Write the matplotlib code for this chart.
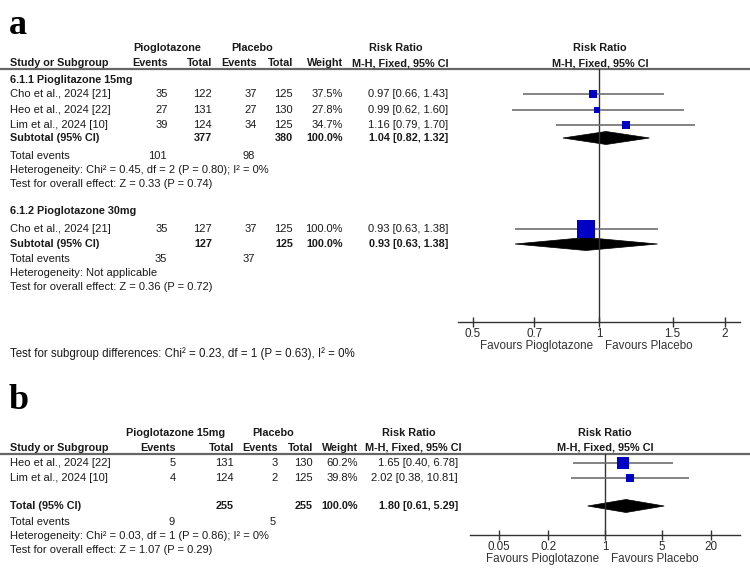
import numpy as np
import matplotlib.pyplot as plt
from matplotlib.patches import Polygon

# ---------------------------------------------------------------
# Panel a: pioglitazone vs placebo, split by dose
# ---------------------------------------------------------------
a15_studies = ["Cho et al., 2024 [21]", "Heo et al., 2024 [22]", "Lim et al., 2024 [10]"]
a15_pio_events = [35, 27, 39]
a15_pio_total = [122, 131, 124]
a15_pla_events = [37, 27, 34]
a15_pla_total = [125, 130, 125]
a15_weight = [37.5, 27.8, 34.7]
a15_rr = [0.97, 0.99, 1.16]
a15_lo = [0.66, 0.62, 0.79]
a15_hi = [1.43, 1.60, 1.70]
a15_subtotal = [1.04, 0.82, 1.32]
a15_sum_total = [377, 380]
a15_sum_events = [101, 98]
a15_het = "Heterogeneity: Chi\u00b2 = 0.45, df = 2 (P = 0.80); I\u00b2 = 0%"
a15_test = "Test for overall effect: Z = 0.33 (P = 0.74)"

a30_studies = ["Cho et al., 2024 [21]"]
a30_pio_events = [35]
a30_pio_total = [127]
a30_pla_events = [37]
a30_pla_total = [125]
a30_weight = [100.0]
a30_rr = [0.93]
a30_lo = [0.63]
a30_hi = [1.38]
a30_subtotal = [0.93, 0.63, 1.38]
a30_sum_total = [127, 125]
a30_sum_events = [35, 37]
a30_het = "Heterogeneity: Not applicable"
a30_test = "Test for overall effect: Z = 0.36 (P = 0.72)"

a_subgroup_test = "Test for subgroup differences: Chi\u00b2 = 0.23, df = 1 (P = 0.63), I\u00b2 = 0%"
a_ticks = [0.5, 0.7, 1, 1.5, 2]
a_tick_labels = ["0.5", "0.7", "1", "1.5", "2"]

# ---------------------------------------------------------------
# Panel b: pioglitazone 15mg vs placebo
# ---------------------------------------------------------------
b_studies = ["Heo et al., 2024 [22]", "Lim et al., 2024 [10]"]
b_pio_events = [5, 4]
b_pio_total = [131, 124]
b_pla_events = [3, 2]
b_pla_total = [130, 125]
b_weight = [60.2, 39.8]
b_rr = [1.65, 2.02]
b_lo = [0.40, 0.38]
b_hi = [6.78, 10.81]
b_total = [1.80, 0.61, 5.29]
b_sum_total = [255, 255]
b_sum_events = [9, 5]
b_het = "Heterogeneity: Chi\u00b2 = 0.03, df = 1 (P = 0.86); I\u00b2 = 0%"
b_test = "Test for overall effect: Z = 1.07 (P = 0.29)"
b_ticks = [0.05, 0.2, 1, 5, 20]
b_tick_labels = ["0.05", "0.2", "1", "5", "20"]

# ---------------------------------------------------------------
W, H = 750, 584
FONTE = "Liberation Sans"
TAM = 8.0
TAM_NEGRITO = 7.8
COR_TEXTO = "#1a1a1a"
COR_IC = "#6e6e6e"
COR_QUADRADO = "#0000c4"

plt.rcParams["font.family"] = [FONTE, "DejaVu Sans"]

fig = plt.figure(figsize=(W / 100, H / 100), dpi=100)
base = fig.add_axes([0, 0, 1, 1])
base.set_xlim(0, W)
base.set_ylim(H, 0)
base.axis("off")


def escrever(x, y, s, ha="left", bold=False, size=None):
    if size is None:
        size = TAM_NEGRITO if bold else TAM
    base.text(x, y, s, ha=ha, va="center", fontsize=size, color=COR_TEXTO,
              fontweight="bold" if bold else "normal")


def eixo_floresta(x0, x1, y_top, y_bot, xlim, ticks, labels):
    ax = fig.add_axes([x0 / W, 1 - y_bot / H, (x1 - x0) / W, (y_bot - y_top) / H])
    ax.patch.set_visible(False)
    ax.set_xscale("log")
    ax.set_xlim(xlim)
    ax.set_ylim(y_bot, y_top)
    for lado in ["top", "left", "right"]:
        ax.spines[lado].set_visible(False)
    ax.spines["bottom"].set_color("#333333")
    ax.spines["bottom"].set_linewidth(1.0)
    ax.set_xticks(ticks)
    ax.set_xticklabels(labels)
    ax.minorticks_off()
    ax.set_yticks([])
    ax.tick_params(axis="x", direction="inout", length=7, width=1.0, color="#333333",
                   labelsize=TAM + 0.4, labelcolor="#2a2a2a", pad=0.5)
    ax.axvline(1, color="#333333", lw=1.0)
    ax.annotate("Favours Pioglotazone", (1, y_bot), xytext=(-4, -17), textcoords="offset points",
                ha="right", va="center", fontsize=TAM + 0.4, color="#333333", annotation_clip=False)
    ax.annotate("Favours Placebo", (1, y_bot), xytext=(4, -17), textcoords="offset points",
                ha="left", va="center", fontsize=TAM + 0.4, color="#333333", annotation_clip=False)
    return ax


def desenhar_estudo(ax, y, rr, lo, hi, peso):
    ax.plot([lo, hi], [y, y], color=COR_IC, lw=1.2, solid_capstyle="butt")
    lado_px = 1.5 + 16 * peso / 100
    ax.plot([rr], [y], marker="s", ms=lado_px * 0.72, color=COR_QUADRADO, mew=0, ls="none")


def desenhar_diamante(ax, y, rr, lo, hi, meia_altura=6.5):
    ax.add_patch(Polygon([[lo, y], [rr, y - meia_altura], [hi, y], [rr, y + meia_altura]],
                         closed=True, facecolor="black", edgecolor="black", lw=0.5))


def cabecalho(y1, y2, y_linha, col, grupo1, centro_g1, centro_g2, centro_rr, centro_mh):
    escrever(centro_g1, y1, grupo1, ha="center", bold=True)
    escrever(centro_g2, y1, "Placebo", ha="center", bold=True)
    escrever(centro_rr, y1, "Risk Ratio", ha="center", bold=True)
    escrever(10, y2, "Study or Subgroup", bold=True)
    escrever(col[0], y2, "Events", ha="right", bold=True)
    escrever(col[1], y2, "Total", ha="right", bold=True)
    escrever(col[2], y2, "Events", ha="right", bold=True)
    escrever(col[3], y2, "Total", ha="right", bold=True)
    escrever(col[4], y2, "Weight", ha="right", bold=True)
    escrever(centro_mh, y2, "M-H, Fixed, 95% CI", ha="center", bold=True)
    base.plot([0, W], [y_linha, y_linha], color="#666666", lw=1.6)


def linhas_estudos(ax, ys, col, nomes, ev1, tot1, ev2, tot2, peso, rr, lo, hi):
    for i, y in enumerate(ys):
        escrever(10, y, nomes[i])
        escrever(col[0], y, str(ev1[i]), ha="right")
        escrever(col[1], y, str(tot1[i]), ha="right")
        escrever(col[2], y, str(ev2[i]), ha="right")
        escrever(col[3], y, str(tot2[i]), ha="right")
        escrever(col[4], y, f"{peso[i]:.1f}%", ha="right")
        escrever(col[5], y, f"{rr[i]:.2f} [{lo[i]:.2f}, {hi[i]:.2f}]", ha="right")
        desenhar_estudo(ax, y, rr[i], lo[i], hi[i], peso[i])


def linha_resumo(ax, y, col, rotulo, totais, resumo):
    escrever(10, y, rotulo, bold=True)
    escrever(col[1], y, str(totais[0]), ha="right", bold=True)
    escrever(col[3], y, str(totais[1]), ha="right", bold=True)
    escrever(col[4], y, "100.0%", ha="right", bold=True)
    rr, lo, hi = resumo
    escrever(col[5], y, f"{rr:.2f} [{lo:.2f}, {hi:.2f}]", ha="right", bold=True)
    desenhar_diamante(ax, y, rr, lo, hi)


def rodape(y, col, eventos, het, teste):
    escrever(10, y, "Total events")
    escrever(col[0] - 1, y, str(eventos[0]), ha="right")
    escrever(col[2] - 2, y, str(eventos[1]), ha="right")
    escrever(10, y + 14, het)
    escrever(10, y + 28, teste)


# ---------------- panel a ----------------
base.text(9, 34, "a", fontsize=26, fontweight="bold", family="Liberation Serif",
          color="black", va="baseline")
col_a = [168, 212, 257, 293, 343, 448]
cabecalho(48, 63, 69, col_a, "Pioglotazone", 167, 252, 396, 400)
escrever(600, 48, "Risk Ratio", ha="center", bold=True)
escrever(600, 63, "M-H, Fixed, 95% CI", ha="center", bold=True)

ax_a = eixo_floresta(458, 740, 69, 322, (1 / 2.172, 2.172), a_ticks, a_tick_labels)

escrever(10, 80, "6.1.1 Pioglitazone 15mg", bold=True)
linhas_estudos(ax_a, [94, 110, 125], col_a, a15_studies, a15_pio_events, a15_pio_total,
               a15_pla_events, a15_pla_total, a15_weight, a15_rr, a15_lo, a15_hi)
linha_resumo(ax_a, 138, col_a, "Subtotal (95% CI)", a15_sum_total, a15_subtotal)
rodape(156, col_a, a15_sum_events, a15_het, a15_test)

escrever(10, 211, "6.1.2 Pioglotazone 30mg", bold=True)
linhas_estudos(ax_a, [229], col_a, a30_studies, a30_pio_events, a30_pio_total,
               a30_pla_events, a30_pla_total, a30_weight, a30_rr, a30_lo, a30_hi)
linha_resumo(ax_a, 244, col_a, "Subtotal (95% CI)", a30_sum_total, a30_subtotal)
rodape(259, col_a, a30_sum_events, a30_het, a30_test)

escrever(10, 354, a_subgroup_test, size=8.3)

# ---------------- panel b ----------------
base.text(9, 409, "b", fontsize=26, fontweight="bold", family="Liberation Serif",
          color="black", va="baseline")
col_b = [176, 234, 278, 313, 358, 458]
cabecalho(433, 448, 454, col_b, "Pioglotazone 15mg", 176, 273, 409, 413)
escrever(605, 433, "Risk Ratio", ha="center", bold=True)
escrever(605, 448, "M-H, Fixed, 95% CI", ha="center", bold=True)

ax_b = eixo_floresta(470, 740, 454, 535, (0.022, 45), b_ticks, b_tick_labels)

linhas_estudos(ax_b, [463, 478], col_b, b_studies, b_pio_events, b_pio_total,
               b_pla_events, b_pla_total, b_weight, b_rr, b_lo, b_hi)
linha_resumo(ax_b, 506, col_b, "Total (95% CI)", b_sum_total, b_total)
rodape(522, col_b, b_sum_events, b_het, b_test)

fig.savefig("out.png", dpi=100)
plt.close(fig)
